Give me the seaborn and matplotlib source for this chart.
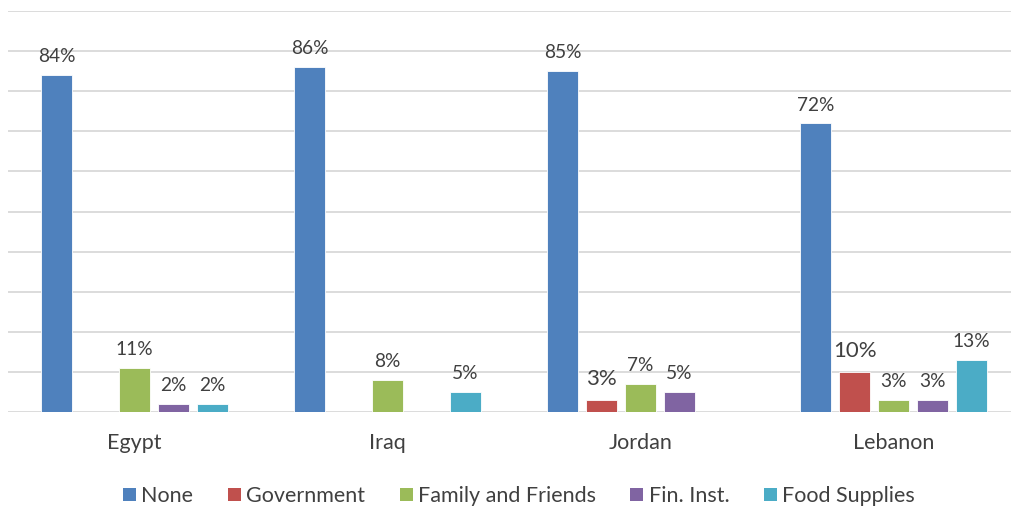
import matplotlib
matplotlib.use("Agg")
import matplotlib.pyplot as plt
import seaborn as sns
import pandas as pd
import numpy as np
from matplotlib.patches import Patch

countries = ["Egypt", "Iraq", "Jordan", "Lebanon"]
sources = ["None", "Government", "Family and Friends", "Fin. Inst.", "Food Supplies"]
none_vals = [84, 86, 85, 72]
government_vals = [np.nan, np.nan, 3, 10]
family_vals = [11, 8, 7, 3]
fin_vals = [2, np.nan, 5, 3]
food_vals = [2, 5, np.nan, 13]
colors = ["#4F81BD", "#C0504D", "#9BBB59", "#8064A2", "#4BACC6"]

series = [none_vals, government_vals, family_vals, fin_vals, food_vals]
rows = []
for s, vals in zip(sources, series):
    for c, v in zip(countries, vals):
        rows.append({"country": c, "source": s, "value": v})
df = pd.DataFrame(rows).dropna()

sns.set_style("white")
plt.rcParams["font.family"] = ["Lato", "DejaVu Sans"]
text_color = "#404040"

fig = plt.figure(figsize=(10.11, 5.08), dpi=100)
ax = fig.add_axes([8 / 1011, 96 / 508, 1003 / 1011, 401 / 508])

sns.barplot(data=df, x="country", y="value", hue="source", order=countries,
            hue_order=sources, palette=colors, width=0.77, gap=0.2,
            saturation=1, edgecolor="white", linewidth=0.6,
            errorbar=None, legend=False, ax=ax, zorder=3)

ax.set_xlim(-0.5, -0.5 + 1003 / 253)
ax.set_ylim(0, 100)
ax.set_yticks(np.arange(0, 101, 10))
ax.set_yticklabels([])
ax.grid(axis="y", color="#D9D9D9", linewidth=1.3, zorder=0)
ax.set_axisbelow(True)
for sp in ax.spines.values():
    sp.set_visible(False)
ax.tick_params(axis="both", length=0)
ax.tick_params(axis="x", pad=15, labelsize=15.5, labelcolor=text_color)
ax.set_xlabel("")
ax.set_ylabel("")

for cont, s in zip(ax.containers, sources):
    fs = 16 if s == "Government" else 13.8
    pad = 8 if s == "Government" else 7
    ax.bar_label(cont, fmt="{:.0f}%", padding=pad, fontsize=fs, color=text_color)

handles = [Patch(facecolor=c, edgecolor="none") for c in colors]
fig.legend(handles, sources, loc="center", bbox_to_anchor=(519 / 1011, 1 - 496 / 508),
           ncol=5, frameon=False, fontsize=15.5, handlelength=0.6, handleheight=0.6,
           handletextpad=0.25, columnspacing=1.6, labelcolor=text_color)

fig.savefig("out.png", dpi=100)
